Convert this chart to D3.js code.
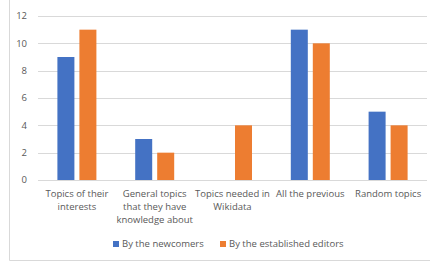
<!DOCTYPE html>
<html>
<head>
<meta charset="utf-8">
<script src="https://cdn.jsdelivr.net/npm/d3@7"></script>
<style>
  body { margin: 0; background: #fff; }
  svg { display: block; font-family: "Open Sans", "Liberation Sans", sans-serif; }
</style>
</head>
<body>
<script>
var categories = [
  ["Topics of their", "interests"],
  ["General topics", "that they have", "knowledge about"],
  ["Topics needed in", "Wikidata"],
  ["All the previous"],
  ["Random topics"]
];
var seriesNames = ["By the newcomers", "By the established editors"];
var newcomers = [9, 3, 0, 11, 5];
var established = [11, 2, 4, 10, 4];
var yTicks = [0, 2, 4, 6, 8, 10, 12];
var colors = ["#4472C4", "#ED7D31"];

var W = 430, H = 262;
var svg = d3.select("body").append("svg").attr("width", W).attr("height", H);

// frame (cropped: only left and bottom edges visible)
svg.append("path")
  .attr("d", "M9.5,0 V260.5 H430")
  .attr("fill", "none").attr("stroke", "#d9d9d9");

var x = d3.scaleBand().domain(d3.range(categories.length)).range([38, 427]);
var y = d3.scaleLinear().domain([0, 12]).range([180, 16]);

// gridlines
svg.append("g").selectAll("line").data(yTicks).enter().append("line")
  .attr("x1", 38).attr("x2", 427)
  .attr("y1", function(d) { return Math.round(y(d)) + 0.5; })
  .attr("y2", function(d) { return Math.round(y(d)) + 0.5; })
  .attr("stroke", "#d9d9d9");

// y labels
svg.append("g").selectAll("text").data(yTicks).enter().append("text")
  .attr("x", 27).attr("y", function(d) { return y(d); })
  .attr("dy", "0.35em").attr("text-anchor", "end")
  .attr("font-size", 9.5).attr("fill", "#595959")
  .text(function(d) { return d; });

var barW = 17, gap = 5;
var series = [newcomers, established];
series.forEach(function(vals, s) {
  svg.append("g").selectAll("rect").data(vals).enter().append("rect")
    .attr("x", function(d, i) {
      var c = x(i) + x.bandwidth() / 2;
      return s === 0 ? c - gap / 2 - barW : c + gap / 2;
    })
    .attr("y", function(d) { return y(d); })
    .attr("width", barW)
    .attr("height", function(d) { return y(0) - y(d); })
    .attr("fill", colors[s]);
});

// category labels
var cat = svg.append("g").selectAll("text").data(categories).enter().append("text")
  .attr("x", function(d, i) { return x(i) + x.bandwidth() / 2; })
  .attr("y", 197)
  .attr("text-anchor", "middle")
  .attr("font-size", 9.5).attr("fill", "#595959");
cat.selectAll("tspan").data(function(d) { return d; }).enter().append("tspan")
  .attr("x", function() { return d3.select(this.parentNode).attr("x"); })
  .attr("dy", function(d, i) { return i === 0 ? 0 : 13; })
  .text(function(d) { return d; });

// legend
var legX = [113, 220];
seriesNames.forEach(function(name, s) {
  svg.append("rect").attr("x", legX[s]).attr("y", 241)
    .attr("width", 6).attr("height", 6).attr("fill", colors[s]);
  svg.append("text").attr("x", legX[s] + 9).attr("y", 244)
    .attr("dy", "0.35em").attr("font-size", 9.5).attr("fill", "#595959")
    .text(name);
});
</script>
</body>
</html>
